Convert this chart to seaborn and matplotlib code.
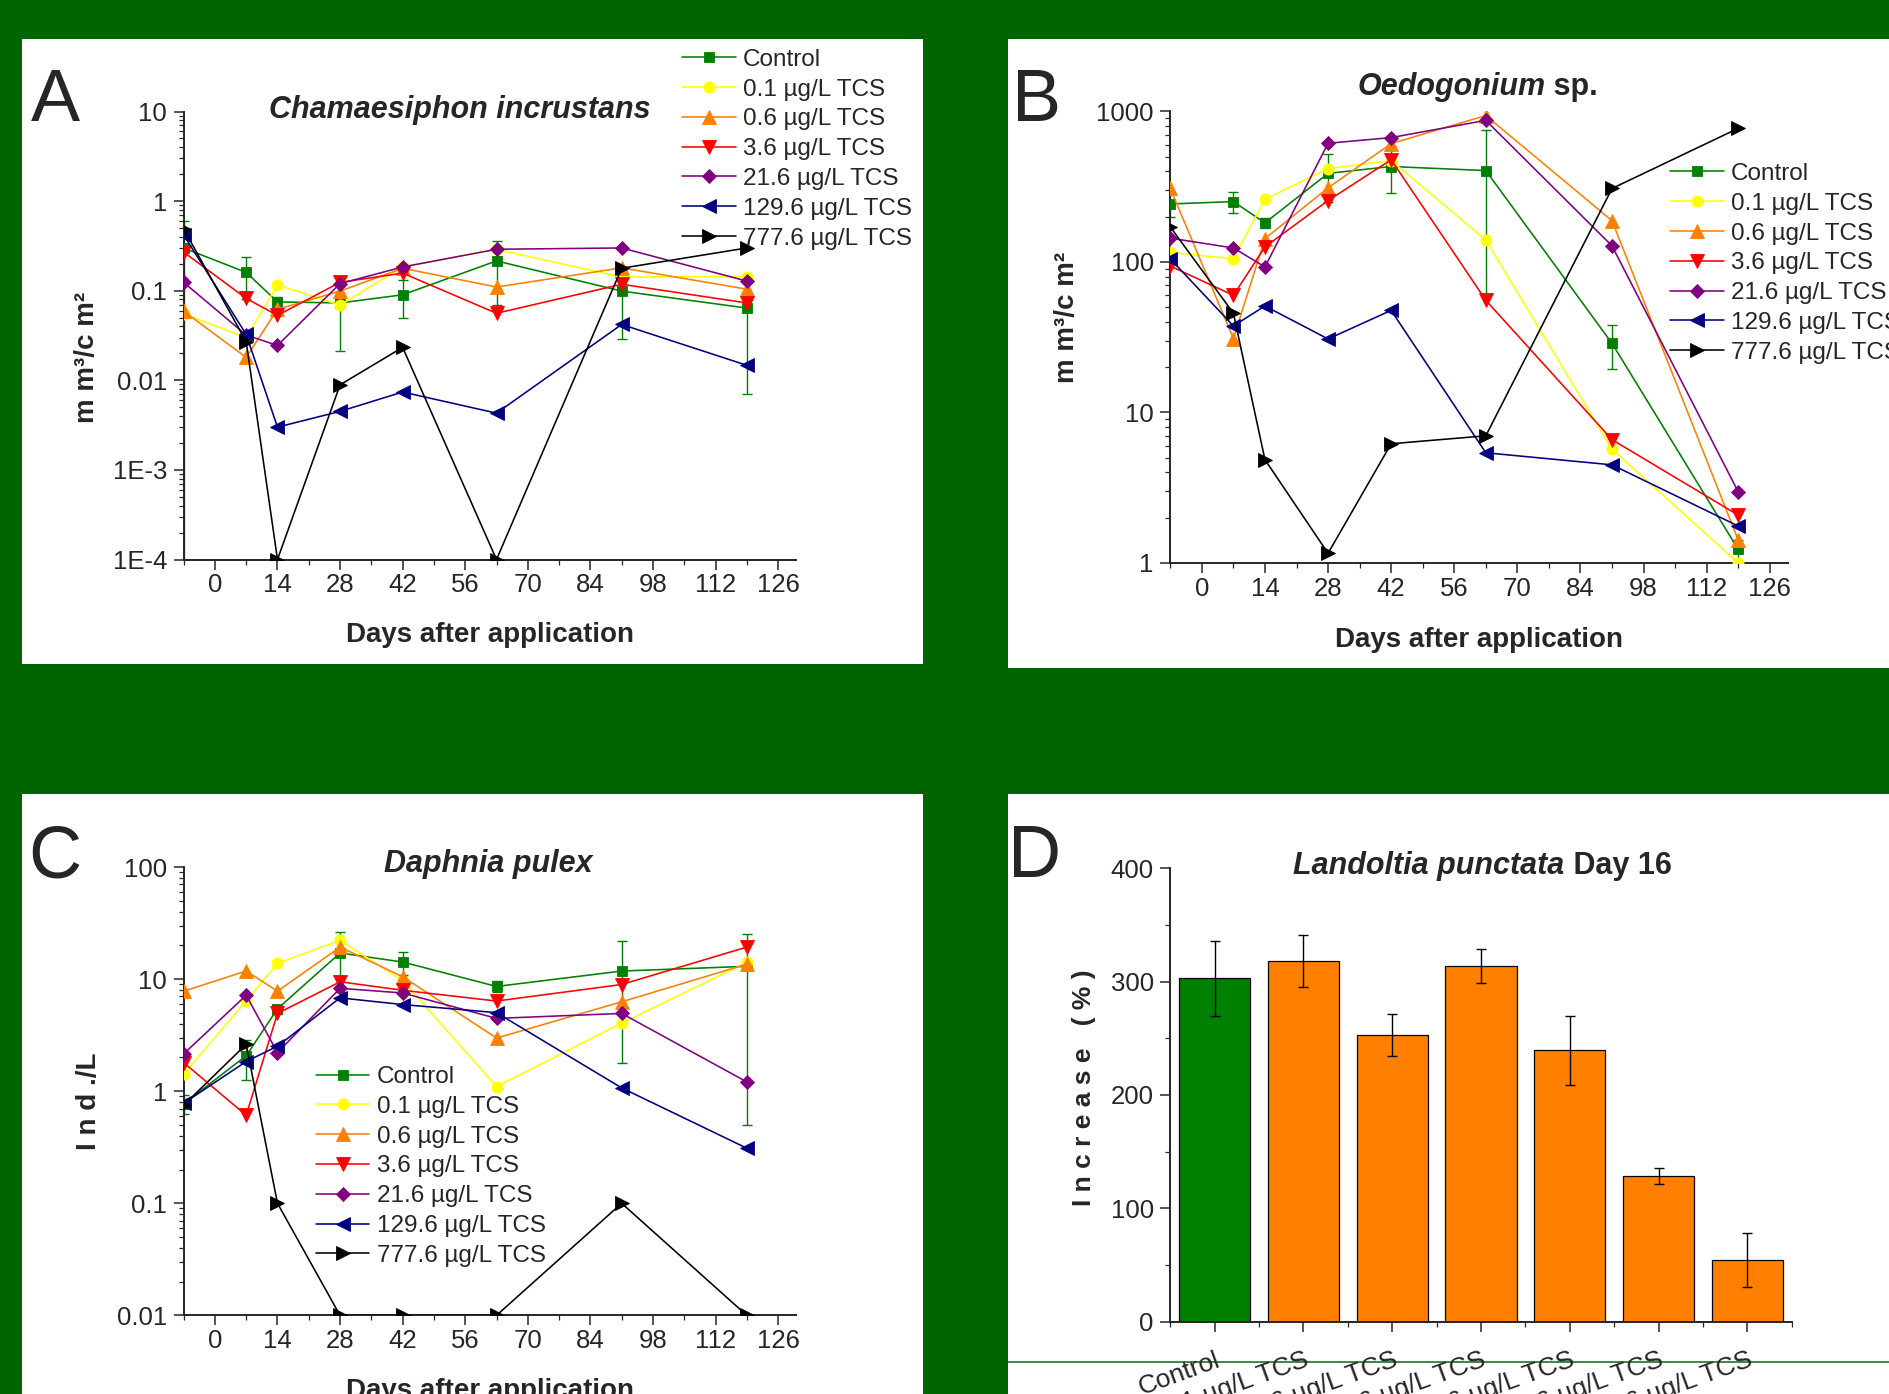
"""
plot.py
=======
Four-panel figure: triclosan (TCS) exposure over time for three taxa
(log scale) plus a bar chart of Landoltia growth at day 16.
"""
import matplotlib
matplotlib.use("Agg")          # no display, only save the png
import matplotlib.pyplot as plt
from matplotlib.patches import Rectangle
from matplotlib.lines import Line2D
from matplotlib.ticker import FixedLocator, LogLocator, NullFormatter, MultipleLocator
import seaborn as sns

# --- shared categories ---
DAYS = [-7, 7, 14, 28, 42, 63, 91, 119]
DAY_TICKS = [0, 14, 28, 42, 56, 70, 84, 98, 112, 126]
GROUPS = ["Control", "0.1 µg/L TCS", "0.6 µg/L TCS", "3.6 µg/L TCS",
          "21.6 µg/L TCS", "129.6 µg/L TCS", "777.6 µg/L TCS"]
COLORS = ["#008000", "#FFFF00", "#FF8000", "#FF0000", "#800080", "#000080", "#000000"]
MARKERS = ["s", "o", "^", "v", "D", "<", ">"]
MSIZES = [7.0, 8.0, 10.0, 10.0, 7.0, 10.0, 10.0]

# --- A: Chamaesiphon incrustans (mm3/cm2) ---
CHAM_CONTROL = [0.30, 0.16, 0.075, 0.073, 0.090, 0.215, 0.099, 0.064]
CHAM_CONTROL_ERR = [0.2999, 0.08, 0.01, 0.052, 0.041, 0.145, 0.07, 0.057]
CHAM_01 = [0.055, 0.030, 0.116, 0.069, 0.184, 0.29, 0.142, 0.144]
CHAM_06 = [0.059, 0.018, 0.062, 0.099, 0.178, 0.110, 0.180, 0.104]
CHAM_36 = [0.27, 0.082, 0.053, 0.124, 0.157, 0.056, 0.118, 0.073]
CHAM_216 = [0.124, 0.032, 0.0245, 0.12, 0.184, 0.29, 0.30, 0.128]
CHAM_1296 = [0.42, 0.0325, 0.0030, 0.0045, 0.0074, 0.0043, 0.042, 0.0147]
CHAM_7776 = [0.49, 0.027, 1e-4, 0.0089, 0.0233, 1e-4, 0.178, 0.30]
CHAM_YTICKS = [1e-4, 1e-3, 0.01, 0.1, 1, 10]
CHAM_YLABELS = ["1E-4", "1E-3", "0.01", "0.1", "1", "10"]

# --- B: Oedogonium sp. (mm3/cm2) ---
OEDO_CONTROL = [243, 252, 182, 388, 431, 405, 28.8, 1.23]
OEDO_CONTROL_ERR = [45, 40, 15, 137, 145, 345, 9.2, 0.2]
OEDO_01 = [116, 105, 261, 418, 472, 140, 5.7, 1.0]
OEDO_06 = [308, 31, 143, 311, 612, 940, 188, 1.42]
OEDO_36 = [94, 60, 126, 256, 478, 55.7, 6.6, 2.08]
OEDO_216 = [144, 124, 92.7, 615, 671, 873, 128, 2.97]
OEDO_1296 = [105, 37.6, 51, 30.8, 47.7, 5.4, 4.49, 1.76]
OEDO_7776 = [171, 45.7, 4.86, 1.16, 6.2, 7.0, 308, 773]
OEDO_YTICKS = [1, 10, 100, 1000]
OEDO_YLABELS = ["1", "10", "100", "1000"]

# --- C: Daphnia pulex (Ind./L) ---
DAPH_CONTROL = [0.77, 2.07, 5.43, 17.1, 14.2, 8.6, 11.8, 13.0]
DAPH_CONTROL_ERR = [0.15, 0.8, 0.5, 9.4, 3.3, 1.0, 10, 12.5]
DAPH_01 = [1.42, 6.4, 13.8, 22.2, 9.7, 1.1, 4.05, 14.1]
DAPH_06 = [7.8, 11.8, 7.8, 19.3, 10.5, 2.98, 6.27, 13.6]
DAPH_36 = [1.8, 0.61, 4.94, 9.46, 7.95, 6.37, 8.95, 19.3]
DAPH_216 = [2.15, 7.18, 2.21, 8.28, 7.52, 4.46, 4.94, 1.21]
DAPH_1296 = [0.78, 1.84, 2.52, 6.8, 5.93, 5.02, 1.07, 0.31]
DAPH_7776 = [0.75, 2.62, 0.1, 0.01, 0.01, 0.01, 0.1, 0.01]
DAPH_YTICKS = [0.01, 0.1, 1, 10, 100]
DAPH_YLABELS = ["0.01", "0.1", "1", "10", "100"]

# --- D: Landoltia punctata, increase at day 16 (%) ---
LAND_INCREASE = [303, 318, 252.5, 313.6, 239.2, 128.4, 54.4]
LAND_ERR = [33, 23, 18.5, 14.8, 30.4, 7, 24]
LAND_COLORS = ["#008000"] + ["#FF8000"] * 6
LAND_YTICKS = [0, 100, 200, 300, 400]

BG_GREEN = "#006400"
W, H = 1890, 1394


def px_box(x0, y0, x1, y1):
    """pixel box (top-left origin) -> figure fraction [left, bottom, w, h]"""
    return [x0 / W, 1 - y1 / H, (x1 - x0) / W, (y1 - y0) / H]


def style_axis(ax):
    sns.despine(ax=ax)
    for s in ("left", "bottom"):
        ax.spines[s].set_linewidth(1.4)
    ax.set_facecolor("none")
    ax.tick_params(which="major", length=7, width=1.1, labelsize=18.5, pad=3)
    ax.tick_params(which="minor", length=3.5, width=0.9)
    ax.tick_params(axis="y", which="major", pad=5)


def time_panel(ax, series, ctrl_err, ylim, yticks, ylabels, ylabel, ylab_xy, leg_xy):
    # control error bars (green), drawn under the lines
    ax.errorbar(DAYS, series[0], yerr=ctrl_err, fmt="none", ecolor=COLORS[0],
                elinewidth=1.0, capsize=3.3, capthick=1.0, zorder=1)
    for vals, name, c, m, ms in zip(series, GROUPS, COLORS, MARKERS, MSIZES):
        sns.lineplot(x=DAYS, y=vals, ax=ax, color=c, marker=m, markersize=ms,
                     markeredgecolor=c, markeredgewidth=0.6, linewidth=1.15,
                     label=name, zorder=3)
    ax.set_yscale("log")
    ax.set_ylim(*ylim)
    ax.set_xlim(-7, 130)
    ax.xaxis.set_major_locator(FixedLocator(DAY_TICKS))
    ax.xaxis.set_minor_locator(MultipleLocator(7))
    ax.set_xticklabels([str(d) for d in DAY_TICKS])
    ax.yaxis.set_major_locator(FixedLocator(yticks))
    ax.set_yticklabels(ylabels)
    ax.yaxis.set_minor_locator(LogLocator(base=10, subs=range(2, 10)))
    ax.yaxis.set_minor_formatter(NullFormatter())
    ax.set_xlabel("")
    ax.set_ylabel("")
    style_axis(ax)
    ax.text(ylab_xy[0], ylab_xy[1], ylabel, transform=ax.transAxes, rotation=90,
            ha="center", va="center", fontsize=20, fontweight="bold")
    ax.text(0.5, -0.185, "Days after application", transform=ax.transAxes,
            ha="center", va="baseline", fontsize=20, fontweight="bold")
    ax.legend(loc="upper left", bbox_to_anchor=leg_xy, frameon=False,
              fontsize=17.5, handlelength=2.2, handletextpad=0.3,
              labelspacing=0.32, borderpad=0, borderaxespad=0)


def mixed_title(fig, cx, y, italic_part, rest):
    """bold italic species name followed by upright bold text, centred at cx"""
    r = fig.canvas.get_renderer()
    t1 = fig.text(0, y, italic_part, fontsize=22, fontweight="bold",
                  style="italic", ha="left", va="baseline")
    t2 = fig.text(0, y, rest, fontsize=22, fontweight="bold",
                  ha="left", va="baseline")
    w1 = t1.get_window_extent(r).width / W
    w2 = t2.get_window_extent(r).width / W if rest else 0
    x0 = cx - (w1 + w2) / 2
    t1.set_x(x0)
    t2.set_x(x0 + w1)


def main():
    sns.set_style("ticks")
    plt.rcParams["font.family"] = ["Liberation Sans", "DejaVu Sans"]
    plt.rcParams["axes.unicode_minus"] = False

    fig = plt.figure(figsize=(W / 100, H / 100), dpi=100, facecolor=BG_GREEN)

    # white panels on the green background
    for box in [(22, 39, 923, 664), (1008, 39, W, 668),
                (22, 794, 923, H), (1008, 794, W, H)]:
        l, b, w, h = px_box(*box)
        fig.add_artist(Rectangle((l, b), w, h, transform=fig.transFigure,
                                 facecolor="white", edgecolor="none", zorder=-2))
    # thin green line running across panel D below the axis
    fig.add_artist(Line2D([1008 / W, 1.0], [1 - 1362 / H] * 2, transform=fig.transFigure,
                          color="#007000", linewidth=1.1, zorder=-1))

    ax_a = fig.add_axes(px_box(183.6, 111.5, 796, 559.5))
    ax_b = fig.add_axes(px_box(1170.3, 111.5, 1787.8, 563))
    ax_c = fig.add_axes(px_box(183.6, 867, 796, 1315.4))
    ax_d = fig.add_axes(px_box(1170.3, 868.2, 1791.7, 1321.6))

    # --- A ---
    time_panel(ax_a, [CHAM_CONTROL, CHAM_01, CHAM_06, CHAM_36, CHAM_216, CHAM_1296, CHAM_7776],
               CHAM_CONTROL_ERR, (1e-4, 10), CHAM_YTICKS, CHAM_YLABELS,
               "m m³/c m²", (-0.158, 0.452), (0.814, 1.140))
    # --- B ---
    time_panel(ax_b, [OEDO_CONTROL, OEDO_01, OEDO_06, OEDO_36, OEDO_216, OEDO_1296, OEDO_7776],
               OEDO_CONTROL_ERR, (1, 1000), OEDO_YTICKS, OEDO_YLABELS,
               "m m³/c m²", (-0.167, 0.545), (0.810, 0.886))
    # --- C ---
    time_panel(ax_c, [DAPH_CONTROL, DAPH_01, DAPH_06, DAPH_36, DAPH_216, DAPH_1296, DAPH_7776],
               DAPH_CONTROL_ERR, (0.01, 100), DAPH_YTICKS, DAPH_YLABELS,
               "I n d ./L", (-0.155, 0.478), (0.216, 0.556))

    # --- D: bars ---
    sns.barplot(x=GROUPS, y=LAND_INCREASE, hue=GROUPS, palette=LAND_COLORS,
                legend=False, width=0.8, edgecolor="black", linewidth=0.9,
                saturation=1, ax=ax_d)
    ax_d.errorbar(range(len(GROUPS)), LAND_INCREASE, yerr=LAND_ERR, fmt="none",
                  ecolor="black", elinewidth=1.0, capsize=3.6, capthick=1.0, zorder=4)
    ax_d.set_xlim(-0.5, 6.5)
    ax_d.set_ylim(0, 400)
    ax_d.yaxis.set_major_locator(FixedLocator(LAND_YTICKS))
    ax_d.yaxis.set_minor_locator(MultipleLocator(50))
    ax_d.xaxis.set_minor_locator(FixedLocator([i - 0.5 for i in range(8)]))
    ax_d.set_xlabel("")
    ax_d.set_ylabel("")
    style_axis(ax_d)
    ax_d.tick_params(axis="x", which="major", pad=12, labelsize=19)
    for lab in ax_d.get_xticklabels():
        lab.set_rotation(20)
        lab.set_ha("right")
        lab.set_va("top")
        lab.set_rotation_mode("anchor")
    ax_d.text(-0.139, 0.516, "I n c r e a s e   ( % )", transform=ax_d.transAxes,
              rotation=90, ha="center", va="center", fontsize=19, fontweight="bold")

    # panel letters
    for letter, x, y in [("A", 31, 121), ("B", 1012, 121), ("C", 28, 877), ("D", 1008, 877)]:
        fig.text(x / W, 1 - y / H, letter, fontsize=53, ha="left", va="baseline")

    # titles
    mixed_title(fig, 460 / W, 1 - 118 / H, "Chamaesiphon incrustans", "")
    mixed_title(fig, 1477.7 / W, 1 - 95.4 / H, "Oedogonium", " sp.")
    mixed_title(fig, 488 / W, 1 - 871.7 / H, "Daphnia pulex", "")
    mixed_title(fig, 1482.4 / W, 1 - 874 / H, "Landoltia punctata", " Day 16")

    fig.savefig("out.png", dpi=100, facecolor=BG_GREEN)
    plt.close(fig)


if __name__ == "__main__":
    main()
